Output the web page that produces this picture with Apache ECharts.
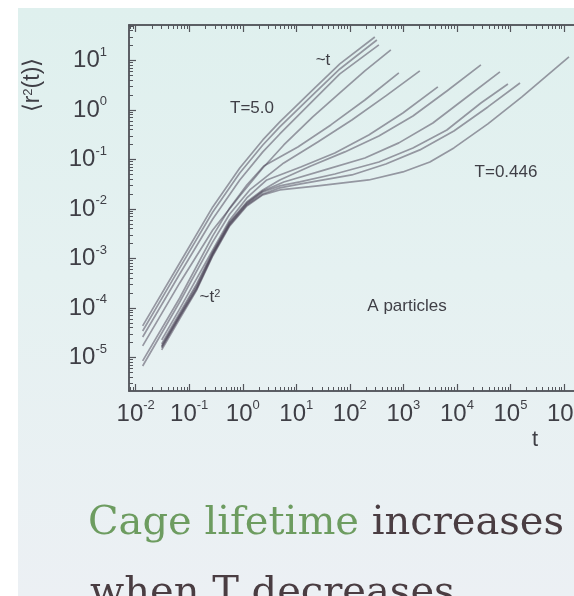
<!DOCTYPE html>
<html>
<head>
<meta charset="utf-8">
<script src="https://cdn.jsdelivr.net/npm/echarts@6/dist/echarts.min.js"></script>
<style>
  html, body { margin: 0; padding: 0; background: #ffffff; }
  #wrap { position: relative; width: 574px; height: 596px; overflow: hidden; }
  #slide {
    position: absolute; left: 18px; top: 8px; right: 0; bottom: 0;
    background: linear-gradient(180deg, #dff0ee 0%, #e5f1f1 45%, #ecf0f4 100%);
  }
  #chart { position: absolute; left: 0; top: 0; width: 574px; height: 596px; }
</style>
</head>
<body>
<div id="wrap"><div id="slide"></div><div id="chart"></div></div>
<script>
// tick decades
const xDecades = [0.01, 0.1, 1, 10, 100, 1000, 1e4, 1e5, 1e6];
const yDecades = [1e-5, 1e-4, 1e-3, 1e-2, 0.1, 1, 10];

const temperatures = ["5.0", "4.0", "3.0", "2.0", "1.0", "0.8", "0.6", "0.55", "0.5", "0.475", "0.466", "0.446"];

// <r^2(t)>, [t, msd]
const msdT5_0 = [[0.0135, 4.33e-5], [0.0664, 8.11e-4], [0.275, 0.0110], [0.879, 0.0673], [2.37, 0.248], [4.92, 0.572], [20.3, 2.54], [65.1, 8.50], [293, 29.8]];
const msdT4_0 = [[0.0135, 3.43e-5], [0.0664, 6.43e-4], [0.275, 8.69e-3], [0.879, 0.0534], [2.37, 0.196], [4.92, 0.454], [20.3, 2.01], [65.1, 6.73], [320, 25.9]];
const msdT3_0 = [[0.0135, 2.59e-5], [0.0664, 4.86e-4], [0.275, 6.28e-3], [0.879, 0.0385], [2.37, 0.142], [4.92, 0.327], [20.3, 1.52], [65.1, 5.34], [349, 20.6]];
const msdT2_0 = [[0.0135, 1.71e-5], [0.0664, 3.20e-4], [0.275, 3.76e-3], [0.879, 0.0183], [2.37, 0.0673], [5.84, 0.196], [20.3, 0.722], [65.1, 2.21], [191, 6.14], [584, 16.3]];
const msdT1_0 = [[0.0135, 8.50e-6], [0.0664, 1.59e-4], [0.275, 2.85e-3], [0.571, 0.0105], [1.19, 0.0305], [2.47, 0.0739], [10.7, 0.179], [44.2, 0.498], [191, 1.59], [824, 5.59]];
const msdT0_8 = [[0.0135, 6.73e-6], [0.0664, 1.32e-4], [0.275, 2.16e-3], [0.571, 7.92e-3], [1.35, 0.0242], [5.84, 0.0850], [25.2, 0.226], [109, 0.628], [471, 1.92], [2030, 6.14]];
const msdT0_6 = [[0.0306, 2.26e-5], [0.0664, 9.55e-5], [0.275, 1.49e-3], [0.571, 6.00e-3], [1.19, 0.0167], [2.81, 0.0385], [12.1, 0.0705], [52.5, 0.135], [226, 0.313], [979, 0.869], [4410, 2.92]];
const msdT0_55 = [[0.0306, 1.88e-5], [0.0664, 7.92e-5], [0.138, 3.05e-4], [0.275, 1.35e-3], [0.571, 5.46e-3], [1.19, 0.0138], [2.37, 0.0242], [4.92, 0.0385], [18.7, 0.0739], [80.7, 0.142], [349, 0.298], [1510, 0.756], [6500, 2.42], [28100, 8.11]];
const msdT0_5 = [[0.0306, 1.71e-5], [0.0664, 7.22e-5], [0.138, 2.78e-4], [0.275, 1.29e-3], [0.571, 5.22e-3], [1.19, 0.0132], [2.37, 0.0231], [5.84, 0.0351], [34.1, 0.0614], [191, 0.107], [824, 0.216], [3560, 0.546], [15400, 1.83], [63600, 5.86]];
const msdT0_475 = [[0.0306, 1.63e-5], [0.0664, 6.89e-5], [0.138, 2.54e-4], [0.275, 1.23e-3], [0.571, 4.98e-3], [1.19, 0.0126], [2.37, 0.0220], [4.92, 0.0292], [11.6, 0.0351], [52.5, 0.0509], [349, 0.0890], [1510, 0.171], [6500, 0.394], [28100, 1.38], [89800, 3.35]];
const msdT0_466 = [[0.0306, 1.56e-5], [0.0664, 6.58e-5], [0.138, 2.42e-4], [0.275, 1.18e-3], [0.571, 4.75e-3], [1.19, 0.0120], [2.37, 0.0201], [4.92, 0.0266], [12.1, 0.0320], [109, 0.0486], [471, 0.0811], [2030, 0.156], [8790, 0.376], [37900, 1.15], [151000, 3.51]];
const msdT0_446 = [[0.0306, 1.42e-5], [0.0664, 6.00e-5], [0.138, 2.31e-4], [0.275, 1.12e-3], [0.571, 4.54e-3], [1.19, 0.0115], [2.37, 0.0192], [4.92, 0.0242], [25.2, 0.0292], [226, 0.0385], [979, 0.0559], [3130, 0.0890], [8790, 0.171], [37900, 0.522], [164000, 1.83], [1240000, 11.8]];

const curves = [msdT5_0, msdT4_0, msdT3_0, msdT2_0, msdT1_0, msdT0_8, msdT0_6, msdT0_55, msdT0_5, msdT0_475, msdT0_466, msdT0_446];

const X_MIN = 0.0075, X_MAX = 1e7;
const Y_MIN = 2.1e-6, Y_MAX = 52;

const minorsOf = (decades, lo, hi) => {
  const out = [];
  for (const d of [decades[0] / 10, ...decades]) {
    for (let k = 2; k <= 9; k++) {
      const v = d * k;
      if (v > lo && v < hi) out.push(v);
    }
  }
  return out;
};
const xMinor = minorsOf(xDecades, X_MIN, X_MAX);
const yMinor = minorsOf(yDecades, Y_MIN, Y_MAX);

const AX = "#54565c";
const TXT = "#3f3f46";
const SANS = "'Liberation Sans', Arial, sans-serif";
const SERIF = "'DejaVu Serif', serif";

const powLabel = (v) => "{b|10}{s|" + Math.round(Math.log10(v)) + "}";
const powRich = {
  b: { fontSize: 24, fontFamily: SANS, color: TXT, lineHeight: 30 },
  s: { fontSize: 13, fontFamily: SANS, color: TXT, verticalAlign: "top" },
};

const baseAxis = (extra) => Object.assign({
  type: "log",
  splitLine: { show: false },
  axisLine: { show: true, lineStyle: { color: AX, width: 1.5 } },
  axisLabel: { show: false },
}, extra);

const majorTick = (vals) => ({ show: true, inside: true, length: 7, lineStyle: { color: AX, width: 1.2 }, customValues: vals });
const minorTick = (vals) => ({ show: true, inside: true, length: 4, lineStyle: { color: AX, width: 1 }, customValues: vals });

const chart = echarts.init(document.getElementById("chart"), null, { renderer: "canvas" });

const option = {
  animation: false,
  backgroundColor: "transparent",
  grid: { left: 129, right: -43.5, top: 25, bottom: 205, containLabel: false, outerBoundsMode: "none" },
  xAxis: [
    baseAxis({
      position: "bottom", min: X_MIN, max: X_MAX,
      axisTick: majorTick(xDecades),
      axisLabel: { show: true, customValues: xDecades, formatter: powLabel, rich: powRich, margin: 8 },
    }),
    baseAxis({ position: "bottom", min: X_MIN, max: X_MAX, axisTick: minorTick(xMinor) }),
    baseAxis({ position: "top", min: X_MIN, max: X_MAX, axisTick: majorTick(xDecades) }),
    baseAxis({ position: "top", min: X_MIN, max: X_MAX, axisTick: minorTick(xMinor) }),
  ],
  yAxis: [
    baseAxis({
      position: "left", min: Y_MIN, max: Y_MAX,
      axisTick: majorTick(yDecades),
      axisLabel: { show: true, customValues: yDecades, formatter: powLabel, rich: powRich, margin: 22 },
    }),
    baseAxis({ position: "left", min: Y_MIN, max: Y_MAX, axisTick: minorTick(yMinor) }),
  ],
  series: curves.map((data, i) => ({
    name: "T=" + temperatures[i],
    type: "line",
    xAxisIndex: 0,
    yAxisIndex: 0,
    data: data,
    showSymbol: false,
    smooth: false,
    silent: true,
    lineStyle: { color: "rgba(70,62,82,0.5)", width: 1.7, join: "round" },
  })),
  graphic: [
    { type: "text", x: 252, y: 108, style: { text: "T=5.0", fontSize: 17, fontFamily: SANS, fill: TXT, align: "center", verticalAlign: "middle" } },
    { type: "text", x: 323, y: 60, style: { text: "~t", fontSize: 17, fontFamily: SANS, fill: TXT, align: "center", verticalAlign: "middle" } },
    { type: "text", x: 210, y: 297, style: { text: "~t{s|2}", fontSize: 17, fontFamily: SANS, fill: TXT, align: "center", verticalAlign: "middle",
      rich: { s: { fontSize: 11, fontFamily: SANS, fill: TXT, verticalAlign: "top" } } } },
    { type: "text", x: 506, y: 172, style: { text: "T=0.446", fontSize: 17, fontFamily: SANS, fill: TXT, align: "center", verticalAlign: "middle" } },
    { type: "text", x: 407, y: 306, style: { text: "A particles", fontSize: 17, fontFamily: SANS, fill: TXT, align: "center", verticalAlign: "middle" } },
    { type: "text", x: 535, y: 440, style: { text: "t", fontSize: 22, fontFamily: SANS, fill: TXT, align: "center", verticalAlign: "middle" } },
    { type: "text", x: 33, y: 85, rotation: Math.PI / 2, style: { text: "\u27e8r{s|2}(t)\u27e9", fontSize: 23, fontFamily: SANS, fill: TXT, align: "center", verticalAlign: "middle",
      rich: { s: { fontSize: 13, fontFamily: SANS, fill: TXT, verticalAlign: "top" } } } },
    { type: "text", x: 88, y: 544, style: { text: "{g|Cage lifetime }{d|increases}", verticalAlign: "bottom", align: "left",
      rich: {
        g: { fontSize: 40, fontFamily: SERIF, fill: "#6d9c60" },
        d: { fontSize: 40, fontFamily: SERIF, fill: "#4a3d42" },
      } } },
    { type: "text", x: 90, y: 614, style: { text: "when T decreases", fontSize: 40, fontFamily: SERIF, fill: "#4a3d42", verticalAlign: "bottom", align: "left" } },
  ],
};

chart.setOption(option);
</script>
</body>
</html>
